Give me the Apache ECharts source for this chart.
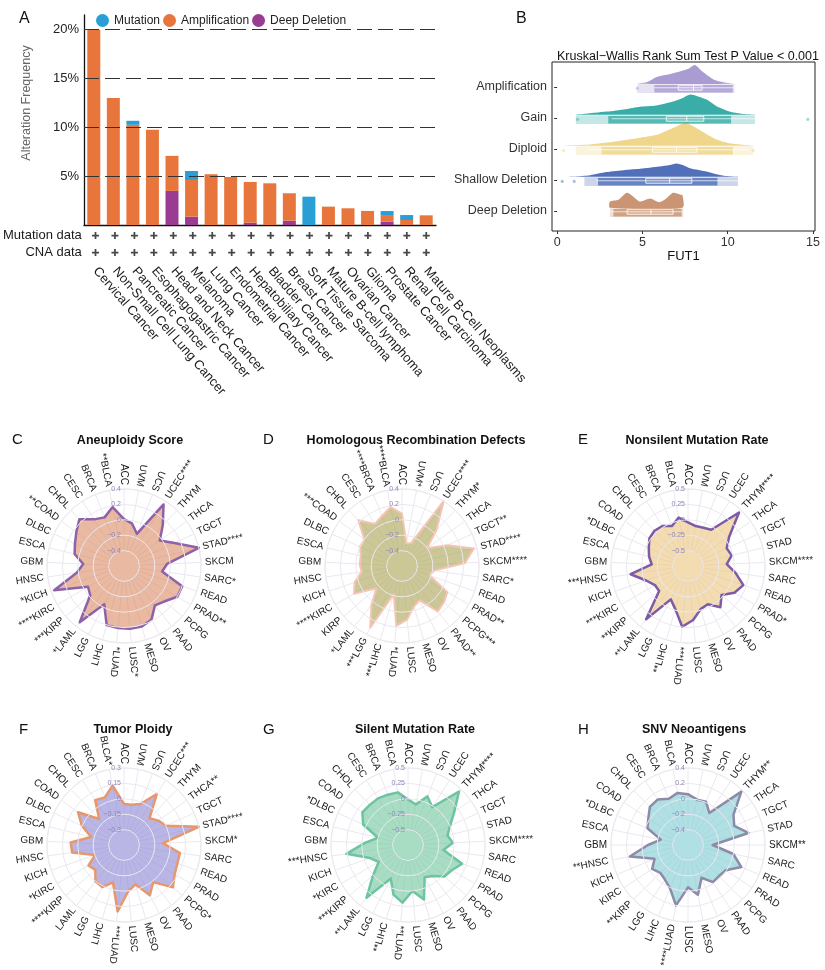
<!DOCTYPE html>
<html><head><meta charset="utf-8">
<script src="https://cdn.jsdelivr.net/npm/echarts@6/dist/echarts.min.js"></script>
<style>html,body{margin:0;padding:0;background:#fff}#c{width:825px;height:970px}</style>
</head><body><div id="c"></div>
<script>
const FONT = 'Liberation Sans, Arial, Helvetica, sans-serif';

// ---------- Panel A data ----------
const cancerTypes = ['Cervical Cancer','Non-Small Cell Lung Cancer','Pancreatic Cancer','Esophagogastric Cancer','Head and Neck Cancer','Melanoma','Lung Cancer','Endometrial Cancer','Hepatobiliary Cancer','Bladder Cancer','Breast Cancer','Soft Tissue Sarcoma','Mature B-cell lymphoma','Ovarian Cancer','Glioma','Prostate Cancer','Renal Cell Carcinoma','Mature B-Cell Neoplasms'];
const mutationPct      = [0,0,0.41,0,0,0.92,0,0,0,0,0,2.9,0,0,0,0.41,0.51,0];
const amplificationPct = [20.0,13.0,10.26,9.74,3.59,3.76,5.2,4.92,4.17,4.27,2.81,0,1.88,1.71,1.44,0.68,0.51,0.99];
const deepDeletionPct  = [0,0,0,0,3.49,0.85,0,0,0.24,0,0.44,0,0,0,0,0.34,0,0];
const yTickLabelsA = [5,10,15,20];
const dataRows = ['CNA data','Mutation data'];
const mutationAvailable = [1,1,1,1,1,1,1,1,1,1,1,1,1,1,1,1,1,1];
const cnaAvailable      = [1,1,1,1,1,1,1,1,1,1,1,1,1,1,1,1,1,1];

// ---------- Panel B data ----------
const bGroups = ['Deep Deletion','Shallow Deletion','Diploid','Gain','Amplification'];
const bTicks = [0,5,10,15];
const densDeep  = [[3.1,0],[3.1,0.2],[3.6,0.26],[4.1,0.48],[4.5,0.34],[4.86,0.2],[5.45,0.3],[6.0,0.18],[6.4,0.3],[6.8,0.48],[7.2,0.43],[7.35,0.4],[7.35,0]];
const densShallow = [[0.3,0],[1.0,0.01],[1.94,0.05],[2.9,0.15],[4.0,0.22],[4.86,0.26],[6.0,0.33],[6.6,0.38],[7.0,0.43],[7.4,0.37],[7.8,0.27],[8.8,0.16],[9.35,0.08],[9.9,0.02],[10.6,0]];
const densDiploid = [[0.4,0],[1.2,0.02],[1.94,0.04],[2.9,0.1],[3.89,0.18],[4.9,0.26],[5.84,0.35],[6.8,0.57],[7.5,0.73],[8.0,0.62],[8.5,0.46],[9.35,0.2],[10.1,0.08],[11.1,0.02],[11.5,0]];
const densGain = [[1.1,0],[1.5,0.02],[2.9,0.1],[4.0,0.18],[4.86,0.26],[5.8,0.3],[6.8,0.43],[7.4,0.55],[7.8,0.65],[8.3,0.58],[8.8,0.48],[9.35,0.27],[10.1,0.1],[10.8,0.03],[11.6,0]];
const densAmp = [[4.67,0],[5.25,0.05],[5.84,0.22],[6.5,0.3],[7.1,0.38],[7.7,0.48],[8.08,0.6],[8.5,0.4],[9.2,0.13],[9.75,0.05],[10.33,0]];
const bDensities = [densDeep, densShallow, densDiploid, densGain, densAmp];
const pointsOuter = [[3.1,7.4],[1.6,10.6],[1.1,11.5],[1.1,11.6],[4.7,10.4]];
const pointsInner = [[3.3,7.3],[2.4,9.4],[2.6,10.3],[3.0,10.2],[5.7,10.3]];
const outlierPts  = [[], [0.3,1.0], [0.37,11.5], [1.2,14.7], [4.7]];
const boxStats = [ // [lowWhisker, q1, median, q3, highWhisker]
  [3.1,4.1,5.5,6.8,7.4],
  [2.3,5.2,6.6,7.9,10.6],
  [1.8,5.6,7.0,8.2,11.2],
  [3.2,6.4,7.6,8.6,11.6],
  [5.7,7.1,8.0,8.5,10.4]
];

// ---------- Radar panels data ----------
const cats33 = ['ACC','UVM','UCS','UCEC','THYM','THCA','TGCT','STAD','SKCM','SARC','READ','PRAD','PCPG','PAAD','OV','MESO','LUSC','LUAD','LIHC','LGG','LAML','KIRP','KIRC','KICH','HNSC','GBM','ESCA','DLBC','COAD','CHOL','CESC','BRCA','BLCA'];
const labelsC = ['ACC','UVM','UCS','UCEC****','THYM','THCA','TGCT','STAD****','SKCM','SARC*','READ','PRAD**','PCPG','PAAD','OV','MESO','LUSC*','*LUAD','LIHC','LGG','*LAML','***KIRP','****KIRC','*KICH','HNSC','GBM','ESCA','DLBC','**COAD','CHOL','CESC','BRCA','**BLCA'];
const valuesC = [0.01,-0.04,-0.15,0.35,0.13,-0.03,0.12,0.40,-0.04,-0.1,0.2,0.2,0.1,0.05,0.18,0.22,0.22,0.21,0.2,-0.04,0.33,-0.02,-0.06,0.36,0.02,-0.07,0.06,0.1,0.16,0.24,0.12,0.08,0.18];
const labelsD = ['ACC','UVM*','UCS','UCEC****','THYM*','THCA','TGCT**','STAD****','SKCM****','SARC*','READ','PRAD**','PCPG***','PAAD**','OV','MESO','LUSC','*LUAD','***LIHC','***LGG','*LAML','KIRP','****KIRC','KICH','HNSC','GBM','ESCA','DLBC','***COAD','CHOL','CESC','****BRCA','****BLCA'];
const valuesD = [0.08,-0.3,-0.28,0.4,0.05,-0.2,0.05,0.36,0.22,-0.18,-0.22,0.08,0.12,0.15,-0.1,-0.05,0.1,0.18,-0.22,0.3,0.04,-0.16,0.12,0.05,-0.07,-0.05,-0.05,0.0,0.0,0.22,0.05,0.1,0.18];
const labelsE = ['ACC','UVM','UCS','UCEC','THYM****','THCA','TGCT','STAD','SKCM****','SARC','READ','PRAD*','PCPG','PAAD','OV','MESO','LUSC','***LUAD','**LIHC','LGG','**LAML','**KIRP','***KIRC','KICH','***HNSC','GBM','ESCA','*DLBC','COAD','CHOL','CESC','BRCA','BLCA'];
const valuesE = [-0.04,-0.09,-0.08,-0.05,0.45,0.07,-0.06,-0.02,-0.12,0.03,0.2,0.12,-0.03,0.1,-0.05,-0.02,0.13,0.24,-0.02,-0.14,0.35,-0.13,-0.13,-0.03,0.19,-0.16,-0.1,-0.05,0.02,0.04,0.02,-0.05,0.05];
const labelsF = ['ACC','UVM','UCS','UCEC***','THYM','THCA**','TGCT','STAD****','SKCM*','SARC','READ','PRAD','PCPG*','PAAD','OV','MESO','LUSC','***LUAD','LIHC','LGG','LAML','****KIRP','*KIRC','KICH','HNSC','GBM','ESCA','DLBC','COAD','CHOL','CESC','BRCA','BLCA*'];
const valuesF = [-0.05,-0.05,-0.02,0.14,-0.09,-0.04,0.0,0.3,-0.07,0.1,0.1,0.12,0.18,0.01,0.1,-0.05,0.0,0.2,-0.07,0.01,0.0,-0.08,-0.05,-0.15,0.06,0.07,-0.12,0.0,0.1,-0.1,0.07,0.05,0.14];
const labelsG = ['ACC','UVM','UCS','UCEC','THYM****','THCA','TGCT','STAD','SKCM****','SARC','READ','PRAD','PCPG','PAAD','OV','MESO','LUSC','**LUAD','**LIHC','LGG','**LAML','***KIRP','*KIRC','KICH','***HNSC','GBM','ESCA','*DLBC','COAD','CHOL','CESC','BRCA','BLCA'];
const valuesG = [-0.01,-0.08,0.1,-0.02,0.45,0.17,0.0,-0.09,-0.02,-0.17,0.18,0.07,0.03,-0.11,-0.16,0.17,0.0,0.19,0.09,-0.14,0.34,0.0,-0.2,-0.1,0.26,-0.05,-0.25,0.05,0.16,0.15,0.15,0.13,0.12];
const labelsH = ['ACC','UVM','UCS','UCEC','THYM**','THCA','TGCT','STAD','SKCM**','SARC','READ','PRAD','PCPG','PAAD','OV','MESO','LUSC','****LUAD','LIHC','LGG','**KIRP','KIRC','KICH','**HNSC','GBM','ESCA','*DLBC','COAD','CHOL','CESC','BRCA','BLCA'];
const valuesH = [0.06,0.0,0.01,-0.1,0.38,0.11,0.05,0.2,-0.28,0.0,0.15,-0.01,-0.03,-0.02,-0.14,0.06,-0.05,0.2,0.01,-0.06,-0.09,-0.04,-0.13,0.17,-0.08,-0.24,-0.03,0.02,0.1,0.11,0.05,0.09];

// ---------- styles ----------
const colMut = '#2a9fd5', colAmp = '#e8763c', colDeep = '#9a3d92';
const bColors = ['#c68f6b','#4868b5','#eed484','#2fa9a3','#a597d0'];
const GRIDC = '#ebe8f0';

const radars = [
  {title:'Aneuploidy Score', letter:'C', center:[124,566], labels:labelsC, values:valuesC, min:-0.6, max:0.4, step:0.2, fill:'rgba(218,138,100,0.6)', stroke:'#8e62a8', lw:2.5},
  {title:'Homologous Recombination Defects', letter:'D', center:[402,566], labels:labelsD, values:valuesD, min:-0.6, max:0.4, step:0.2, fill:'rgba(178,172,102,0.68)', stroke:'#f5c4b4', lw:2},
  {title:'Nonsilent Mutation Rate', letter:'E', center:[688,566], labels:labelsE, values:valuesE, min:-0.75, max:0.5, step:0.25, fill:'rgba(235,197,127,0.6)', stroke:'#7d5ba6', lw:2.5},
  {title:'Tumor Ploidy', letter:'F', center:[124,845], labels:labelsF, values:valuesF, min:-0.45, max:0.3, step:0.15, fill:'rgba(138,133,213,0.6)', stroke:'#e8976c', lw:2.5},
  {title:'Silent Mutation Rate', letter:'G', center:[408,845], labels:labelsG, values:valuesG, min:-0.75, max:0.5, step:0.25, fill:'rgba(110,198,157,0.6)', stroke:'#6cc4a1', lw:2.5},
  {title:'SNV Neoantigens', letter:'H', center:[688,845], labels:labelsH, values:valuesH, min:-0.6, max:0.4, step:0.2, fill:'rgba(123,203,210,0.6)', stroke:'#8c8ba8', lw:2.5}
];
const titlePos = [[125,429],[411,429],[692,429],[128,718],[410,718],[689,718]];
const letterPos = [[7,427],[258,427],[573,427],[14,717],[258,717],[573,717]];

function fmtNum(v){
  const r = Math.round(v*100)/100;
  const s = String(Math.abs(r));
  return (r < 0 ? '\u2212' : '') + s;
}

const chart = echarts.init(document.getElementById('c'), null, {renderer:'canvas'});

const titles = [
  {text:'A', left:14, top:6, textStyle:{fontSize:16, fontWeight:'normal', color:'#111', fontFamily:FONT}},
  {text:'B', left:511, top:6, textStyle:{fontSize:16, fontWeight:'normal', color:'#111', fontFamily:FONT}},
  {text:'Kruskal\u2212Wallis Rank Sum Test P Value < 0.001', left:683, top:45, textAlign:'center', textStyle:{fontSize:12.5, fontWeight:'normal', color:'#111', fontFamily:FONT}}
];
radars.forEach((r,i)=>{
  titles.push({text:r.title, left:titlePos[i][0], top:titlePos[i][1], textAlign:'center', textStyle:{fontSize:12.5, fontWeight:'bold', color:'#111', fontFamily:FONT}});
  titles.push({text:r.letter, left:letterPos[i][0], top:letterPos[i][1], textStyle:{fontSize:15, fontWeight:'normal', color:'#111', fontFamily:FONT}});
});

// Grids
const grids = [
  {left:84, right:389, top:15, bottom:745},            // A bars
  {left:84, right:389, top:227, height:34},             // A rows
  {left:552, right:10, top:62, bottom:739, show:true, borderColor:'#222', borderWidth:1} // B
];
const xAxes = [
  {gridIndex:0, type:'category', data:cancerTypes, axisLine:{lineStyle:{color:'#111', width:1.3}}, axisTick:{show:false}, axisLabel:{show:false}},
  {gridIndex:1, type:'category', data:cancerTypes, axisLine:{show:false}, axisTick:{show:false},
    axisLabel:{rotate:-49, fontSize:13, color:'#1a1a1a', fontFamily:FONT, margin:8, interval:0}},
  {gridIndex:2, type:'value', min:-0.3, max:15.12, axisLine:{show:false}, splitLine:{show:false},
    axisTick:{show:true, length:3, lineStyle:{color:'#333'}, customValues:bTicks},
    axisLabel:{customValues:bTicks, fontSize:12.5, color:'#333', fontFamily:FONT, margin:5},
    name:'FUT1', nameLocation:'middle', nameGap:19, nameTextStyle:{fontSize:13, color:'#111', fontFamily:FONT}}
];
const yAxes = [
  {gridIndex:0, type:'value', min:0, max:21.5, interval:5, axisLine:{show:true, lineStyle:{color:'#111', width:1.3}}, axisTick:{show:false}, splitLine:{show:false},
    axisLabel:{fontSize:13, color:'#222', fontFamily:FONT, margin:5, formatter:(v)=> yTickLabelsA.indexOf(v) >= 0 ? v + '%' : ''}},
  {gridIndex:1, type:'category', data:dataRows, axisLine:{show:false}, axisTick:{show:false},
    axisLabel:{fontSize:13, color:'#1a1a1a', fontFamily:FONT, margin:4}},
  {gridIndex:2, type:'value', min:0.35, max:5.8, axisLine:{show:false}, splitLine:{show:false},
    axisTick:{show:true, length:3, lineStyle:{color:'#333'}, customValues:[1,2,3,4,5]},
    axisLabel:{customValues:[1,2,3,4,5], fontSize:12.5, color:'#333', fontFamily:FONT, margin:5, formatter:(v)=> bGroups[Math.round(v)-1] || ''}}
];

const series = [];
// dashed reference lines (behind bars)
series.push({type:'line', xAxisIndex:0, yAxisIndex:0, data:[], z:1, silent:true,
  markLine:{silent:true, symbol:['none','none'], label:{show:false},
    lineStyle:{type:[15,6], color:'#333', width:1.1},
    data: yTickLabelsA.map(v=>({yAxis:v}))}});
series.push({name:'Deep Deletion', type:'bar', stack:'a', xAxisIndex:0, yAxisIndex:0, barWidth:13, data:deepDeletionPct, itemStyle:{color:colDeep}, z:3});
series.push({name:'Amplification', type:'bar', stack:'a', xAxisIndex:0, yAxisIndex:0, barWidth:13, data:amplificationPct, itemStyle:{color:colAmp}, z:3});
series.push({name:'Mutation', type:'bar', stack:'a', xAxisIndex:0, yAxisIndex:0, barWidth:13, data:mutationPct, itemStyle:{color:colMut}, z:3});

const plusData = [];
cancerTypes.forEach((c,i)=>{
  if (mutationAvailable[i]) plusData.push([i,'Mutation data']);
  if (cnaAvailable[i]) plusData.push([i,'CNA data']);
});
series.push({type:'scatter', xAxisIndex:1, yAxisIndex:1, data:plusData, symbol:'path://M3,0H5V3H8V5H5V8H3V5H0V3H3Z', symbolSize:7, itemStyle:{color:'#1a1a1a'}, silent:true});

// Panel B raincloud
series.push({type:'custom', xAxisIndex:2, yAxisIndex:2, data:bGroups.map((g,i)=>[i]), silent:true, z:3,
  renderItem:(params, api)=>{
    const g = api.value(0);
    const yc = g + 1;
    const col = bColors[g];
    const d = bDensities[g];
    const pts = d.map(p=>api.coord([p[0], yc + 0.1 + p[1]]));
    const children = [];
    children.push({type:'polygon', shape:{points:pts, smooth:0.25}, style:{fill:col, opacity:0.95, stroke:null}});
    const rect = (x0,x1,y0,y1)=>{ const a=api.coord([x0,y1]), b=api.coord([x1,y0]); return {x:a[0], y:a[1], width:b[0]-a[0], height:b[1]-a[1]}; };
    children.push({type:'rect', shape:rect(pointsOuter[g][0], pointsOuter[g][1], yc-0.2, yc+0.08), style:{fill:col, opacity:0.28}});
    children.push({type:'rect', shape:rect(pointsInner[g][0], pointsInner[g][1], yc-0.18, yc+0.06), style:{fill:col, opacity:0.75}});
    outlierPts[g].forEach(x=>{ const c = api.coord([x, yc-0.05]); children.push({type:'circle', shape:{cx:c[0], cy:c[1], r:1.6}, style:{fill:col, opacity:0.45}}); });
    const s = boxStats[g];
    const w0 = api.coord([s[0], yc-0.03]), w1 = api.coord([s[4], yc-0.03]);
    children.push({type:'line', shape:{x1:w0[0], y1:w0[1], x2:w1[0], y2:w1[1]}, style:{stroke:'rgba(255,255,255,0.85)', lineWidth:0.8}});
    children.push({type:'rect', shape:rect(s[1], s[3], yc-0.11, yc+0.05), style:{fill:'rgba(255,255,255,0.12)', stroke:'rgba(255,255,255,0.9)', lineWidth:0.9}});
    const m0 = api.coord([s[2], yc-0.11]), m1 = api.coord([s[2], yc+0.05]);
    children.push({type:'line', shape:{x1:m0[0], y1:m0[1], x2:m1[0], y2:m1[1]}, style:{stroke:'rgba(255,255,255,0.9)', lineWidth:1}});
    return {type:'group', children};
  }});

// Radar panels (polar)
const polars = [], angleAxes = [], radiusAxes = [];
radars.forEach((r, idx)=>{
  const n = r.labels.length;
  polars.push({center:r.center, radius:[0,77]});
  angleAxes.push({polarIndex:idx, type:'value', min:0, max:n, interval:1, startAngle:90, clockwise:true,
    axisLine:{show:true, lineStyle:{color:GRIDC, width:1}}, axisTick:{show:false}, axisLabel:{show:false},
    splitLine:{show:true, lineStyle:{color:GRIDC, width:1}}});
  radiusAxes.push({polarIndex:idx, type:'value', min:r.min, max:r.max, interval:r.step,
    axisLine:{show:false}, axisTick:{show:false}, splitLine:{show:true, lineStyle:{color:GRIDC, width:1}},
    axisLabel:{fontSize:7, color:'#8f86b8', fontFamily:FONT, margin:3,
      formatter:(v)=> Math.abs(v - r.min) < 1e-6 ? '' : fmtNum(v)}, z:6});
  // inner disc (hides spokes near the centre)
  series.push({type:'custom', coordinateSystem:'polar', polarIndex:idx, data:[[r.min + r.step, 0]], silent:true, z:3,
    renderItem:(params, api)=>{
      const cs = params.coordSys;
      const p = api.coord([r.min + r.step, 0]);
      const rr = Math.hypot(p[0]-cs.cx, p[1]-cs.cy);
      return {type:'circle', shape:{cx:cs.cx, cy:cs.cy, r:rr}, style:{fill:'#fff', stroke:GRIDC, lineWidth:1}};
    }});
  series.push({type:'custom', coordinateSystem:'polar', polarIndex:idx, data:[[r.min,0]], silent:true, z:4,
    renderItem:(params, api)=>{
      const pts = r.values.map((v,i)=>api.coord([v,i]));
      return {type:'polygon', shape:{points:pts}, style:{fill:r.fill, stroke:r.stroke, lineWidth:r.lw, lineJoin:'round'}};
    }});
  series.push({type:'custom', coordinateSystem:'polar', polarIndex:idx, data:[[r.max,0]], silent:true, z:7,
    renderItem:(params, api)=>{
      const cs = params.coordSys;
      const children = r.labels.map((t,i)=>{
        const p = api.coord([r.max, i]);
        const dx = p[0]-cs.cx, dy = p[1]-cs.cy, L = Math.hypot(dx,dy) || 1;
        const ux = dx/L, uy = dy/L;
        const theta = i*360/n;
        const outward = theta > 25 && theta < 190;
        const a = Math.atan2(uy, ux);
        return {type:'text', x:p[0]+ux*4, y:p[1]+uy*4,
          rotation: outward ? -a : -a + Math.PI,
          style:{text:t, fill:'#1a1a1a', fontSize:10, fontFamily:FONT,
            align: outward ? 'left' : 'right', verticalAlign:'middle'}};
      });
      return {type:'group', children};
    }});
});

chart.setOption({
  animation:false,
  backgroundColor:'#fff',
  textStyle:{fontFamily:FONT},
  title:titles,
  legend:{data:['Mutation','Amplification','Deep Deletion'], left:91, top:9, icon:'circle', itemWidth:13, itemHeight:13, itemGap:3,
    textStyle:{fontSize:12, color:'#222', fontFamily:FONT}, selectedMode:false},
  grid:grids, xAxis:xAxes, yAxis:yAxes,
  polar:polars, angleAxis:angleAxes, radiusAxis:radiusAxes,
  graphic:[{type:'text', x:27, y:103, rotation:Math.PI/2, style:{text:'Alteration Frequency', fill:'#666', fontSize:12.5, fontFamily:FONT, align:'center', verticalAlign:'middle'}}],
  series:series
});
</script></body></html>
